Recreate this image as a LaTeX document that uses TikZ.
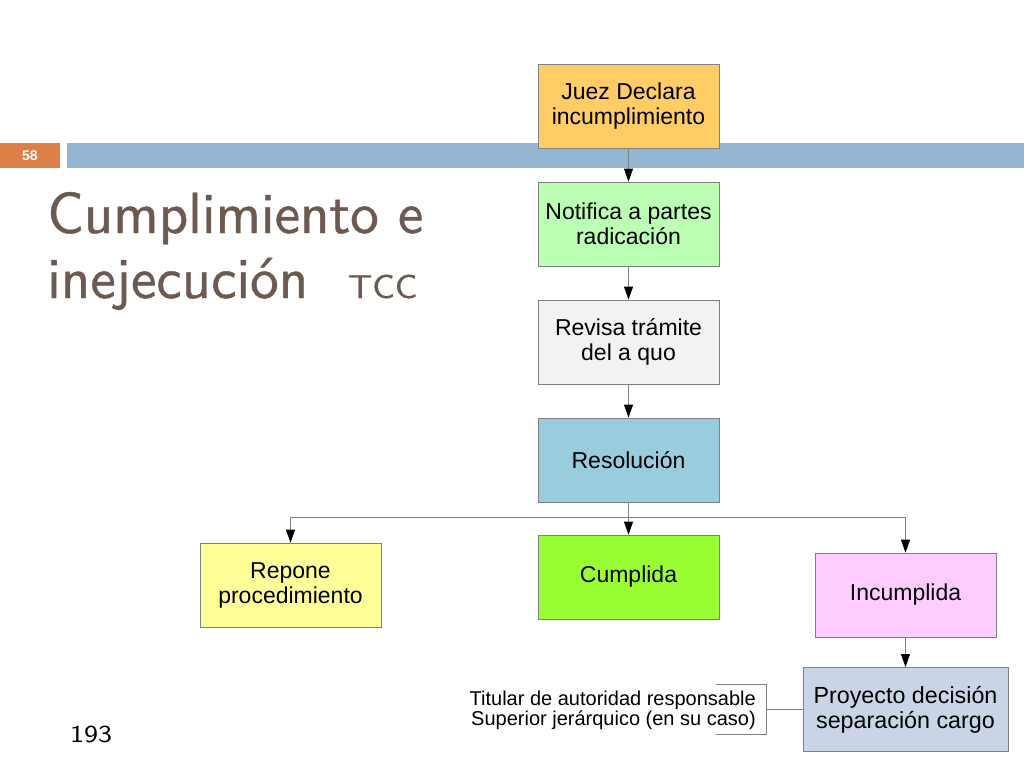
\documentclass[tikz,border=0pt]{standalone}
\usepackage{fontspec}
\setmainfont{Liberation Sans}
\newfontfamily\titlefont{lmsans10-regular.otf}[FakeBold=0.7]
\usetikzlibrary{arrows.meta}
\definecolor{barorange}{HTML}{DD8047}
\definecolor{barblue}{HTML}{94B6D2}
\definecolor{titlec}{RGB}{108,89,80}
\definecolor{edgec}{HTML}{808080}
\definecolor{cjuez}{HTML}{FFCC66}
\definecolor{cnotif}{HTML}{BBFFB4}
\definecolor{crevisa}{HTML}{F2F2F2}
\definecolor{cresol}{HTML}{99CCDD}
\definecolor{crepone}{HTML}{FFFF99}
\definecolor{ccumpl}{HTML}{99FF33}
\definecolor{cincum}{HTML}{FFCCFF}
\definecolor{cproy}{HTML}{C9D5E7}
\tikzset{
  flowbox/.style={draw=edgec, line width=0.8pt, rectangle, minimum width=181pt,
    minimum height=84pt, inner sep=0pt, align=center,
    font=\fontsize{23}{25}\selectfont},
  conn/.style={draw=edgec, line width=0.8pt,
    -{Triangle[length=13pt,width=9pt,color=black]}},
  plainline/.style={draw=edgec, line width=0.8pt},
  notetext/.style={inner sep=0pt, font=\fontsize{20}{20}\selectfont},
}
\begin{document}
\begin{tikzpicture}[x=1pt,y=-1pt]
\useasboundingbox (0,0) rectangle (1024,768);
% header bars
\fill[barorange] (0,143) rectangle (60,168);
\fill[barblue] (67,143) rectangle (1024,168);
\node[text=white, inner sep=0pt, anchor=base, font=\bfseries\fontsize{14}{14}\selectfont] (num) at (30,160) {58};
% title
\node[anchor=base west, inner sep=0pt, text=titlec] (t1) at (47,233)
  {\resizebox{376pt}{\height}{\fontsize{58}{58}\titlefont Cumplimiento e}};
\node[anchor=base west, inner sep=0pt, text=titlec] (t2) at (47,298)
  {\resizebox{261pt}{\height}{\fontsize{58}{58}\titlefont inejecución}};
\node[anchor=base west, inner sep=0pt, text=titlec] (t3) at (348,298)
  {\resizebox{69pt}{\height}{\fontsize{33}{33}\titlefont TCC}};
\node[anchor=base west, inner sep=0pt] (pg) at (70,742)
  {\resizebox{42pt}{\height}{\fontsize{24.5}{24.5}\sffamily 193}};
% boxes
\node[flowbox, fill=cjuez] (juez) at (628.5,106) {Juez Declara\\incumplimiento};
\node[flowbox, fill=cnotif] (notif) at (628.5,224) {Notifica a partes\\radicación};
\node[flowbox, fill=crevisa] (revisa) at (628.5,342) {Revisa trámite\\del a quo};
\node[flowbox, fill=cresol] (resol) at (628.5,460) {Resolución};
\node[flowbox, fill=crepone] (repone) at (290.5,585) {Repone\\procedimiento};
\node[flowbox, fill=ccumpl] (cumpl) at (628.5,577) {Cumplida};
\node[flowbox, fill=cincum] (incum) at (905.5,595) {Incumplida};
\node[flowbox, fill=cproy, minimum width=205pt, font=\fontsize{23.3}{25}\selectfont] (proy) at (905.5,709.5) {Proyecto decisión\\separación cargo};
% connectors
\draw[conn] (juez) -- (notif);
\draw[conn] (notif) -- (revisa);
\draw[conn] (revisa) -- (resol);
\draw[conn] (resol) -- (cumpl);
\coordinate (bj) at (628.5,517);
\draw[conn] (bj) -| (repone.north);
\draw[conn] (bj) -| (incum.north);
\draw[conn] (incum) -- (proy);
% note with bracket
\node[notetext, anchor=base east] (n1) at (756,705) {Titular de autoridad responsable};
\node[notetext, anchor=base east] (n2) at (756,725) {Superior jerárquico (en su caso)};
\coordinate (brt) at (716,684);
\coordinate (brb) at (716,734);
\coordinate (br) at (766,709.5);
\draw[plainline] (brt) -- (br |- brt) -- (br |- brb) -- (brb);
\draw[plainline] (br) -- (proy.west);
\end{tikzpicture}
\end{document}
